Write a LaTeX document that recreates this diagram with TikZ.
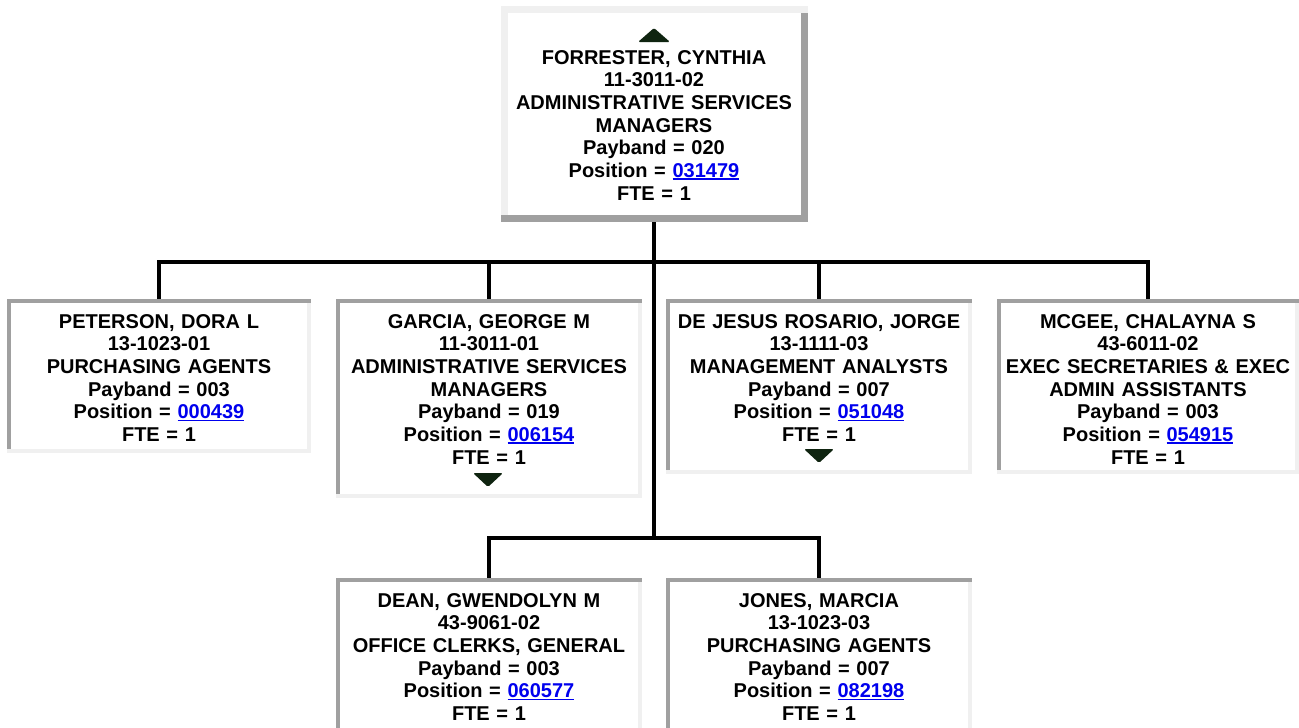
\documentclass[tikz,border=0pt]{standalone}
\usepackage{fontspec}
\setmainfont{Liberation Sans}
\usetikzlibrary{calc}
\definecolor{bdark}{HTML}{A0A0A0}
\definecolor{blight}{HTML}{F0F0F0}
\definecolor{linkblue}{HTML}{0000EE}
\definecolor{arrowgreen}{HTML}{0F2410}
\newcommand{\poslink}[1]{{\color{linkblue}\setbox0=\hbox{#1}\rlap{\rule[-2.6pt]{\wd0}{1.8pt}}\box0}}
\newcommand{\firstline}{\rule{0pt}{16pt}}
% outset frame: light top/left, dark bottom/right
\newcommand{\outsetframe}[2]{%
  \fill[blight] (#1.north west) rectangle ([xshift=#2]#1.south west);
  \fill[bdark] ([xshift=-#2]#1.north east) rectangle (#1.south east);
  \fill[blight] (#1.north west) rectangle ([yshift=-#2]#1.north east);
  \fill[bdark] ([yshift=#2]#1.south west) rectangle (#1.south east);
}
% inset frame: dark top/left, light bottom/right
\newcommand{\insetframe}[2]{%
  \fill[bdark] (#1.north west) rectangle ([xshift=#2]#1.south west);
  \fill[blight] ([xshift=-#2]#1.north east) rectangle (#1.south east);
  \fill[blight] ([yshift=#2]#1.south west) rectangle (#1.south east);
  \fill[bdark] (#1.north west) rectangle ([yshift=-#2]#1.north east);
}
\tikzset{
  frame/.style={rectangle, draw=none, fill=white, inner sep=0pt, outer sep=0pt},
  conn/.style={line width=4pt, draw=black, line join=miter},
  info/.style={anchor=north, inner sep=0pt, outer sep=0pt, text width=304pt, align=center,
    font=\fontsize{20pt}{22.7pt}\selectfont\bfseries},
  marker/.style={fill=arrowgreen, rounded corners=1.5pt},
}
\begin{document}
\begin{tikzpicture}[x=1pt, y=-1pt]
\useasboundingbox (0,0) rectangle (1299,728);
\clip (0,0) rectangle (1299,728);
\fill[white] (0,0) rectangle (1299,728);

% frames
\node[frame, minimum width=307pt, minimum height=216pt] (forrester) at (654,114) {};
\node[frame, minimum width=304pt, minimum height=154pt] (peterson) at (159,376) {};
\node[frame, minimum width=306pt, minimum height=199pt] (garcia) at (489,398.5) {};
\node[frame, minimum width=306pt, minimum height=175pt] (dejesus) at (819,386.5) {};
\node[frame, minimum width=302pt, minimum height=175pt] (mcgee) at (1148,386.5) {};
\node[frame, minimum width=306pt, minimum height=156pt] (dean) at (489,656) {};
\node[frame, minimum width=306pt, minimum height=156pt] (jones) at (819,656) {};

\coordinate (bus1) at (654,262);
\coordinate (bus2) at (654,538);

% connectors
\draw[conn] (forrester.south) -- (bus2);
\draw[conn] (peterson.north) |- (bus1) -| (mcgee.north);
\draw[conn] (garcia.north) -- (garcia.north |- bus1);
\draw[conn] (dejesus.north) -- (dejesus.north |- bus1);
\draw[conn] (dean.north) |- (bus2) -| (jones.north);

% borders
\outsetframe{forrester}{7pt}
\insetframe{peterson}{4pt}
\insetframe{garcia}{4pt}
\insetframe{dejesus}{4pt}
\insetframe{mcgee}{4pt}
\insetframe{dean}{4pt}
\insetframe{jones}{4pt}

% markers
\fill[marker] (638,42) -- (654,28) -- (670,42) -- cycle;
\fill[marker] (473,473) -- (503,473) -- (488,487) -- cycle;
\fill[marker] (804,449) -- (834,449) -- (819,463) -- cycle;

% texts
\node[info] (forrester-t) at ([yshift=-42pt]forrester.north) {\firstline FORRESTER, CYNTHIA\\11-3011-02\\ADMINISTRATIVE SERVICES\\MANAGERS\\Payband = 020\\Position = \poslink{031479}\\FTE = 1};
\node[info] (peterson-t) at ([yshift=-13pt]peterson.north) {\firstline PETERSON, DORA L\\13-1023-01\\PURCHASING AGENTS\\Payband = 003\\Position = \poslink{000439}\\FTE = 1};
\node[info] (garcia-t) at ([yshift=-13pt]garcia.north) {\firstline GARCIA, GEORGE M\\11-3011-01\\ADMINISTRATIVE SERVICES\\MANAGERS\\Payband = 019\\Position = \poslink{006154}\\FTE = 1};
\node[info] (dejesus-t) at ([yshift=-13pt]dejesus.north) {\firstline DE JESUS ROSARIO, JORGE\\13-1111-03\\MANAGEMENT ANALYSTS\\Payband = 007\\Position = \poslink{051048}\\FTE = 1};
\node[info] (mcgee-t) at ([yshift=-13pt]mcgee.north) {\firstline MCGEE, CHALAYNA S\\43-6011-02\\EXEC SECRETARIES \& EXEC\\ADMIN ASSISTANTS\\Payband = 003\\Position = \poslink{054915}\\FTE = 1};
\node[info] (dean-t) at ([yshift=-13pt]dean.north) {\firstline DEAN, GWENDOLYN M\\43-9061-02\\OFFICE CLERKS, GENERAL\\Payband = 003\\Position = \poslink{060577}\\FTE = 1};
\node[info] (jones-t) at ([yshift=-13pt]jones.north) {\firstline JONES, MARCIA\\13-1023-03\\PURCHASING AGENTS\\Payband = 007\\Position = \poslink{082198}\\FTE = 1};
\end{tikzpicture}
\end{document}
